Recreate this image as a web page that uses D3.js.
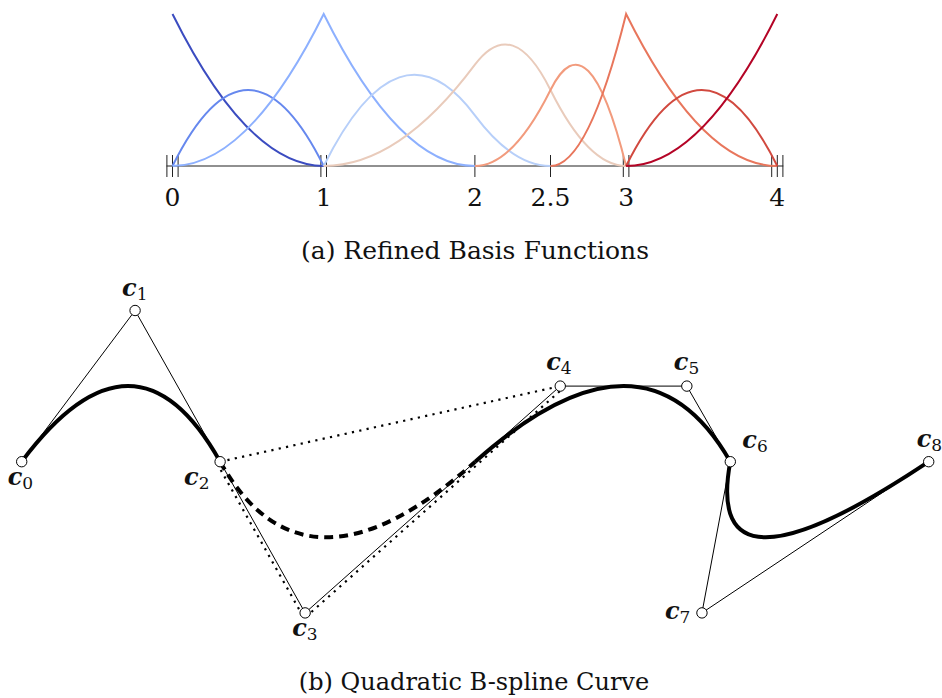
<!DOCTYPE html>
<html>
<head>
<meta charset="utf-8">
<script src="https://cdn.jsdelivr.net/npm/d3@7"></script>
<style>
  body { margin: 0; background: #fff; }
</style>
</head>
<body>
<div id="vis"></div>
<script>
// knot vector of the refined quadratic B-spline
var knots = [0, 0, 0, 1, 1, 2, 2.5, 3, 3, 4, 4, 4];
var tickLabels = ["0", "1", "2", "2.5", "3", "4"];

// control points c0..c8
var pointNames = ["0", "1", "2", "3", "4", "5", "6", "7", "8"];
var ctrlX = [0, 3, 5.25, 7.5, 14.25, 17.6, 18.75, 18, 24];
var ctrlY = [0, 4, 0, -4, 2, 2, 0, -4, 0];

// parameter range drawn dashed, and dotted helper lines (by control point index)
var dashedRange = [1, 2];
var dottedChord = [2, 4];
var dottedPolygon = [2, 3, 4];

var captionA = "(a) Refined Basis Functions";
var captionB = "(b) Quadratic B-spline Curve";

// colours for the nine basis functions (blue -> red)
var basisColors = ["#3b4cc0", "#6688ee", "#8db0fe", "#b7cff9", "#e9cbbb",
                   "#f29b7d", "#e8765c", "#d1493f", "#b40426"];

var W = 942, H = 698;
var degree = 2;
var nCtrl = knots.length - degree - 1;

var svg = d3.select("#vis")
    .append("svg")
    .attr("width", W)
    .attr("height", H)
    .attr("font-family", "DejaVu Serif");

// Bezier coefficients of one non-empty knot span k (t[k] < t[k+1]) for a
// quadratic B-spline with coefficients c
function spanBezier(k, c) {
    var t = knots;
    var a = t[k + 1] - t[k], b = t[k] - t[k - 1], e = t[k + 2] - t[k + 1];
    var p0 = (a * c[k - 2] + b * c[k - 1]) / (t[k + 1] - t[k - 1]);
    var p1 = c[k - 1];
    var p2 = (e * c[k - 1] + a * c[k]) / (t[k + 2] - t[k]);
    return [p0, p1, p2];
}

var spans = [];
for (var k = degree; k < nCtrl; k++) {
    if (knots[k + 1] > knots[k]) spans.push(k);
}

// ---------------- (a) basis functions ----------------
var x = d3.scaleLinear().domain([0, 4]).range([172.5, 777.3]);
var y = d3.scaleLinear().domain([0, 1]).range([166, 14]);

var gTop = svg.append("g");

// unique knots with their multiplicity
var uniq = [];
knots.forEach(function (t) {
    var u = uniq.find(function (d) { return d.t === t; });
    if (u) u.m++; else uniq.push({t: t, m: 1});
});

gTop.append("line")
    .attr("x1", x(0) - 6).attr("x2", x(4) + 6)
    .attr("y1", y(0)).attr("y2", y(0))
    .attr("stroke", "#222").attr("stroke-width", 1.1);

uniq.forEach(function (u, i) {
    for (var j = 0; j < u.m; j++) {
        var off = (j - (u.m - 1) / 2) * 5.6;
        gTop.append("line")
            .attr("x1", x(u.t) + off).attr("x2", x(u.t) + off)
            .attr("y1", y(0) - 11).attr("y2", y(0) + 11)
            .attr("stroke", "#222").attr("stroke-width", 1);
    }
    gTop.append("text")
        .attr("x", x(u.t))
        .attr("y", 206)
        .attr("text-anchor", "middle")
        .attr("fill", "#111")
        .style("font-size", "25px")
        .text(tickLabels[i]);
});

d3.range(nCtrl).forEach(function (i) {
    var coef = d3.range(nCtrl).map(function (j) { return j === i ? 1 : 0; });
    var p = d3.path();
    var started = false;
    spans.forEach(function (k) {
        if (i < k - 2 || i > k) return;
        var b = spanBezier(k, coef);
        var t0 = knots[k], t1 = knots[k + 1];
        if (!started) { p.moveTo(x(t0), y(b[0])); started = true; }
        p.quadraticCurveTo(x((t0 + t1) / 2), y(b[1]), x(t1), y(b[2]));
    });
    gTop.append("path")
        .attr("d", p.toString())
        .attr("fill", "none")
        .attr("stroke", basisColors[i])
        .attr("stroke-width", 2);
});

svg.append("text")
    .attr("x", 475).attr("y", 259)
    .attr("text-anchor", "middle")
    .attr("fill", "#111")
    .style("font-size", "25px")
    .text(captionA);

// ---------------- (b) curve ----------------
var bx = d3.scaleLinear().domain([0, 24]).range([21.7, 928.7]);
var by = d3.scaleLinear().domain([0, 4]).range([461.7, 310.5]);

var gBot = svg.append("g");
var pts = d3.range(nCtrl).map(function (i) { return [bx(ctrlX[i]), by(ctrlY[i])]; });

// control polygon
gBot.append("path")
    .attr("d", d3.line()(pts))
    .attr("fill", "none")
    .attr("stroke", "#000")
    .attr("stroke-width", 1);

// dotted helpers
gBot.append("path")
    .attr("d", d3.line()(dottedChord.map(function (i) { return pts[i]; })))
    .attr("fill", "none")
    .attr("stroke", "#000")
    .attr("stroke-width", 2.2)
    .attr("stroke-dasharray", "2.2,5.3");

// dotted polygon shifted a little outside the control polygon
function offsetLine(idx, d) {
    var p = idx.map(function (i) { return pts[i]; });
    var out = [];
    var normals = [];
    for (var s = 0; s < p.length - 1; s++) {
        var dx = p[s + 1][0] - p[s][0], dy = p[s + 1][1] - p[s][1];
        var L = Math.hypot(dx, dy);
        normals.push([dy / L, -dx / L]);
    }
    for (var q = 0; q < p.length; q++) {
        var n0 = normals[Math.max(0, q - 1)], n1 = normals[Math.min(normals.length - 1, q)];
        var nx = n0[0] + n1[0], ny = n0[1] + n1[1];
        var dot = nx * n1[0] + ny * n1[1];
        out.push([p[q][0] - d * nx / dot, p[q][1] - d * ny / dot]);
    }
    return out;
}
gBot.append("path")
    .attr("d", d3.line()(offsetLine(dottedPolygon, 3.5)))
    .attr("fill", "none")
    .attr("stroke", "#000")
    .attr("stroke-width", 2.2)
    .attr("stroke-dasharray", "2.2,5.3");

// curve pieces
var solid = d3.path(), dashed = d3.path();
var last = null;
spans.forEach(function (k) {
    var bxs = spanBezier(k, ctrlX), bys = spanBezier(k, ctrlY);
    var t0 = knots[k], t1 = knots[k + 1];
    var isDashed = t0 >= dashedRange[0] && t1 <= dashedRange[1];
    var p = isDashed ? dashed : solid;
    if (isDashed || last !== t0) p.moveTo(bx(bxs[0]), by(bys[0]));
    p.quadraticCurveTo(bx(bxs[1]), by(bys[1]), bx(bxs[2]), by(bys[2]));
    last = isDashed ? null : t1;
});

gBot.append("path")
    .attr("d", dashed.toString())
    .attr("fill", "none")
    .attr("stroke", "#000")
    .attr("stroke-width", 4)
    .attr("stroke-dasharray", "9,6");

gBot.append("path")
    .attr("d", solid.toString())
    .attr("fill", "none")
    .attr("stroke", "#000")
    .attr("stroke-width", 4)
    .attr("stroke-linejoin", "round");

gBot.selectAll("circle")
    .data(pts)
    .enter().append("circle")
    .attr("cx", function (d) { return d[0]; })
    .attr("cy", function (d) { return d[1]; })
    .attr("r", 5.2)
    .attr("fill", "#fff")
    .attr("stroke", "#000")
    .attr("stroke-width", 1);

// label placement relative to each point
var labelOff = [[-14, 23], [-13, -15], [-36, 23], [-13, 23], [-14, -16],
                [-13, -16], [12, -14], [-37, 6], [-12, -15]];

pts.forEach(function (d, i) {
    var t = gBot.append("text")
        .attr("x", d[0] + labelOff[i][0])
        .attr("y", d[1] + labelOff[i][1])
        .attr("fill", "#111");
    t.append("tspan")
        .style("font-size", "24px")
        .style("font-weight", "bold")
        .style("font-style", "italic")
        .text("c");
    t.append("tspan")
        .attr("dy", 4)
        .style("font-size", "17px")
        .text(pointNames[i]);
});

svg.append("text")
    .attr("x", 474).attr("y", 690)
    .attr("text-anchor", "middle")
    .attr("fill", "#111")
    .style("font-size", "24px")
    .text(captionB);
</script>
</body>
</html>
